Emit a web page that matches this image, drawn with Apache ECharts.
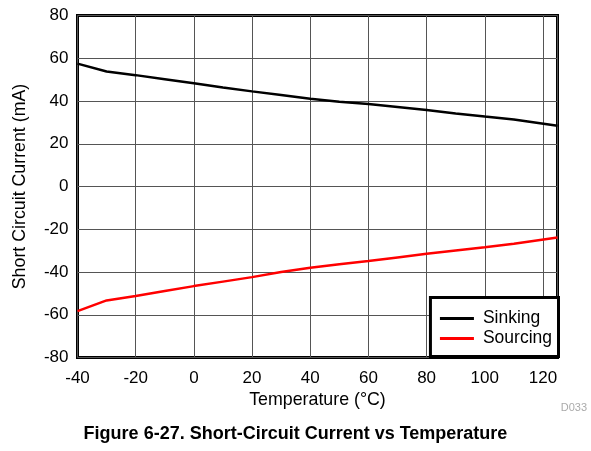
<!DOCTYPE html>
<html>
<head>
<meta charset="utf-8">
<script src="https://cdn.jsdelivr.net/npm/echarts@6/dist/echarts.min.js"></script>
<style>
  html, body { margin: 0; padding: 0; background: #fff; }
  #chart { width: 591px; height: 451px; }
</style>
</head>
<body>
<div id="chart"></div>
<script>
// temperature (°C)
var temps = [-40, -30, -20, -10, 0, 10, 20, 30, 40, 50, 60, 70, 80, 90, 100, 110, 125];
// short circuit current (mA)
var sinking = [57.5, 53.8, 52.1, 50.2, 48.3, 46.3, 44.5, 42.8, 41.1, 39.7, 38.6, 37.2, 35.8, 34.2, 32.7, 31.3, 28.4];
var sourcing = [-58.3, -53.3, -51.2, -48.9, -46.6, -44.5, -42.4, -40.0, -38.0, -36.4, -34.9, -33.2, -31.5, -29.9, -28.4, -26.8, -23.9];

function pairs(xs, ys) {
  return xs.map(function (x, i) { return [x, ys[i]]; });
}

var font = 'Liberation Sans, Arial, sans-serif';
var chart = echarts.init(document.getElementById('chart'));

var option = {
  animation: false,
  title: {
    text: 'Figure 6-27. Short-Circuit Current vs Temperature',
    left: 'center',
    top: 420,
    textStyle: { fontFamily: font, fontSize: 18, fontWeight: 'bold', color: '#000' }
  },
  graphic: [{
    type: 'text',
    right: 4,
    top: 402,
    style: { text: 'D033', fontFamily: font, fontSize: 11, fill: '#aaa' }
  }],
  grid: {
    left: 77.5, right: 33.5, top: 15.5, bottom: 93.5,
    show: true, borderColor: '#000', borderWidth: 3, backgroundColor: 'transparent'
  },
  legend: {
    right: 32.5, bottom: 94.5,
    orient: 'vertical',
    backgroundColor: '#fff',
    borderColor: '#000',
    borderWidth: 3,
    borderRadius: 0,
    padding: [11, 6.5, 8, 9.5],
    itemGap: 0,
    itemWidth: 34,
    itemHeight: 3,
    icon: 'rect',
    textStyle: { fontFamily: font, fontSize: 17.5, lineHeight: 20, color: '#000', padding: [0, 0, 0, 4] },
    data: ['Sinking', 'Sourcing']
  },
  xAxis: {
    type: 'value',
    min: -40, max: 125, interval: 20,
    name: 'Temperature (°C)',
    nameLocation: 'middle',
    nameGap: 31,
    nameTextStyle: { fontFamily: font, fontSize: 17.8, color: '#000' },
    axisLine: { show: false },
    axisTick: { show: false },
    axisLabel: {
      margin: 12, fontFamily: font, fontSize: 17, color: '#000',
      showMaxLabel: false,
      formatter: function (v) { return v === 125 ? '' : v; }
    },
    splitLine: { show: true, lineStyle: { color: '#555', width: 1 } }
  },
  yAxis: {
    type: 'value',
    min: -80, max: 80, interval: 20,
    name: 'Short Circuit Current (mA)',
    nameLocation: 'middle',
    nameGap: 48,
    nameTextStyle: { fontFamily: font, fontSize: 17.8, color: '#000' },
    axisLine: { show: false },
    axisTick: { show: false },
    axisLabel: { margin: 9, fontFamily: font, fontSize: 17, color: '#000' },
    splitLine: { show: true, lineStyle: { color: '#555', width: 1 } }
  },
  series: [{
    name: 'Sinking',
    type: 'line',
    symbol: 'none',
    data: pairs(temps, sinking),
    lineStyle: { color: '#000', width: 2.5 },
    itemStyle: { color: '#000' }
  }, {
    name: 'Sourcing',
    type: 'line',
    symbol: 'none',
    data: pairs(temps, sourcing),
    lineStyle: { color: '#ff0000', width: 2.5 },
    itemStyle: { color: '#ff0000' }
  }]
};

chart.setOption(option);
</script>
</body>
</html>
